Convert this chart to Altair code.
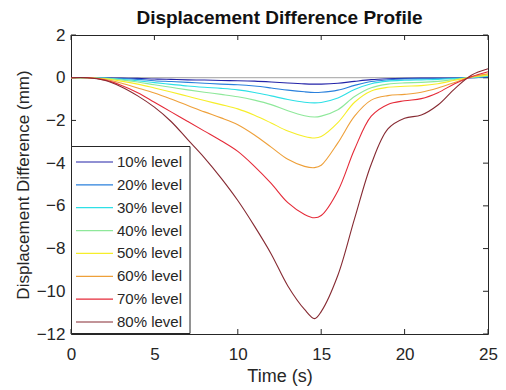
import altair as alt
import pandas as pd

t = [0, 1, 2, 3, 4, 5, 6, 7, 8, 9, 10, 11, 12, 13, 14, 14.6, 15, 16, 17, 18, 19, 20, 21, 22, 23, 24, 25]

levels = ["10% level", "20% level", "30% level", "40% level",
          "50% level", "60% level", "70% level", "80% level"]

s10 = [0, 0, 0, -0.02, -0.03, -0.06, -0.08, -0.10, -0.11, -0.13, -0.14, -0.16, -0.20, -0.25, -0.29, -0.30, -0.30, -0.26, -0.17, -0.09, -0.05, -0.03, -0.02, -0.02, -0.01, 0.0, 0.03]
s20 = [0, 0, -0.01, -0.04, -0.08, -0.14, -0.18, -0.22, -0.26, -0.30, -0.33, -0.39, -0.48, -0.58, -0.66, -0.69, -0.68, -0.58, -0.36, -0.18, -0.10, -0.06, -0.05, -0.04, -0.02, 0.0, 0.05]
s30 = [0, 0, -0.02, -0.07, -0.14, -0.23, -0.31, -0.39, -0.45, -0.50, -0.57, -0.69, -0.85, -1.02, -1.15, -1.18, -1.16, -0.95, -0.55, -0.28, -0.16, -0.12, -0.10, -0.08, -0.04, 0.01, 0.07]
s40 = [0, 0, -0.03, -0.10, -0.20, -0.33, -0.45, -0.57, -0.68, -0.78, -0.89, -1.05, -1.26, -1.55, -1.78, -1.84, -1.80, -1.50, -0.88, -0.47, -0.30, -0.24, -0.22, -0.17, -0.08, 0.02, 0.10]
s50 = [0, 0, -0.05, -0.16, -0.30, -0.48, -0.67, -0.87, -1.07, -1.26, -1.46, -1.76, -2.12, -2.50, -2.75, -2.82, -2.75, -2.10, -1.15, -0.62, -0.45, -0.40, -0.37, -0.28, -0.12, 0.03, 0.12]
s60 = [0, 0, -0.07, -0.25, -0.48, -0.72, -1.00, -1.30, -1.60, -1.88, -2.20, -2.68, -3.25, -3.82, -4.15, -4.21, -4.10, -3.05, -1.80, -1.05, -0.84, -0.78, -0.68, -0.48, -0.22, 0.04, 0.18]
s70 = [0, 0, -0.10, -0.35, -0.70, -1.15, -1.60, -2.05, -2.50, -2.95, -3.45, -4.15, -4.95, -5.85, -6.40, -6.56, -6.45, -5.30, -3.35, -1.80, -1.25, -1.08, -0.98, -0.70, -0.28, 0.05, 0.28]
s80 = [0, 0, -0.12, -0.42, -0.85, -1.38, -2.05, -2.90, -3.75, -4.70, -5.75, -6.95, -8.25, -9.75, -10.85, -11.28, -10.95, -9.25, -6.60, -4.05, -2.40, -1.90, -1.75, -1.28, -0.52, 0.12, 0.42]

series = [s10, s20, s30, s40, s50, s60, s70, s80]
colors = ["#2323a8", "#2a80dc", "#2ee0e6", "#8ee89a", "#f6ee2a", "#eea03a", "#e52a38", "#862a32"]

x_ticks = [0, 5, 10, 15, 20, 25]
y_ticks = [2, 0, -2, -4, -6, -8, -10, -12]

rows = []
for lvl, vals in zip(levels, series):
    for ti, v in zip(t, vals):
        rows.append({"time": ti, "diff": v, "level": lvl})
df = pd.DataFrame(rows)
leg = pd.DataFrame({"level": levels})

W, H = 417, 299
FONT = "Liberation Sans"
INK = "#262626"

xs = alt.Scale(domain=[0, 25], nice=False)
ys = alt.Scale(domain=[-12, 2], nice=False)
cs = alt.Scale(domain=levels, range=colors)

xaxis = alt.Axis(values=x_ticks, ticks=False, domain=False, grid=False, labelFlush=False,
                 labelFontSize=17, labelPadding=12, titleFontSize=18,
                 titlePadding=5, labelColor=INK, titleColor=INK,
                 titleFontWeight="normal", labelFont=FONT, titleFont=FONT)
yaxis = alt.Axis(values=y_ticks, ticks=False, domain=False, grid=False, labelFlush=False,
                 labelFontSize=17, labelPadding=6, titleFontSize=17,
                 titlePadding=4, labelColor=INK, titleColor=INK,
                 titleFontWeight="normal", labelFont=FONT, titleFont=FONT)
XT = "Time (s)"
YT = "Displacement Difference (mm)"

zero = alt.Chart(pd.DataFrame({"y": [0]})).mark_rule(color="#b4b4b4", strokeWidth=1.2).encode(
    y=alt.Y("y:Q", scale=ys, axis=yaxis, title=YT)
)

lines = alt.Chart(df).mark_line(strokeWidth=1.1, interpolate="catmull-rom").encode(
    x=alt.X("time:Q", scale=xs, title=XT, axis=xaxis),
    y=alt.Y("diff:Q", scale=ys, title=YT, axis=yaxis),
    color=alt.Color("level:N", scale=cs, legend=None),
    order=alt.Order("level:N"),
)

xt = pd.DataFrame({"x": x_ticks})
yt = pd.DataFrame({"y": y_ticks})
bt = alt.Chart(xt).mark_rule(color=INK).encode(
    x=alt.X("x:Q", scale=xs, title=XT, axis=xaxis), y=alt.value(H), y2=alt.value(H - 5))
tt = alt.Chart(xt).mark_rule(color=INK).encode(
    x=alt.X("x:Q", scale=xs, title=XT, axis=xaxis), y=alt.value(0), y2=alt.value(5))
lt = alt.Chart(yt).mark_rule(color=INK).encode(
    y=alt.Y("y:Q", scale=ys, title=YT, axis=yaxis), x=alt.value(0), x2=alt.value(5))
rt = alt.Chart(yt).mark_rule(color=INK).encode(
    y=alt.Y("y:Q", scale=ys, title=YT, axis=yaxis), x=alt.value(W), x2=alt.value(W - 5))

main = alt.layer(zero, bt, tt, lt, rt, lines)

# legend (box, sample lines, labels)
ly = alt.Y("level:N", scale=alt.Scale(type="point", domain=levels, range=[127, 287], padding=0), axis=None)
box = alt.Chart(pd.DataFrame({"a": [0]})).mark_rect(fill="white", stroke=INK, strokeWidth=1).encode(
    x=alt.value(0.5), x2=alt.value(119), y=alt.value(111.5), y2=alt.value(298.5))
lsym = alt.Chart(leg).mark_rule(strokeWidth=1.2).encode(
    x=alt.value(5), x2=alt.value(42), y=ly, color=alt.Color("level:N", scale=cs, legend=None))
ltxt = alt.Chart(leg).mark_text(align="left", baseline="middle", font=FONT, fontSize=15, color=INK).encode(
    x=alt.value(46), y=ly, text="level:N")
legend = alt.layer(box, lsym, ltxt)

chart = alt.layer(main, legend).resolve_scale(y="independent").properties(
    width=W, height=H,
    title=alt.TitleParams("Displacement Difference Profile", fontSize=19, font=FONT,
                          fontWeight="bold", color="#111111", offset=-2),
    autosize=alt.AutoSizeParams(type="none"),
    padding={"left": 71, "top": 35, "right": 18, "bottom": 56},
    background="white",
).configure_view(stroke=INK, strokeWidth=1)

chart.save("out.html", embed_options={"renderer": "svg", "actions": False})
